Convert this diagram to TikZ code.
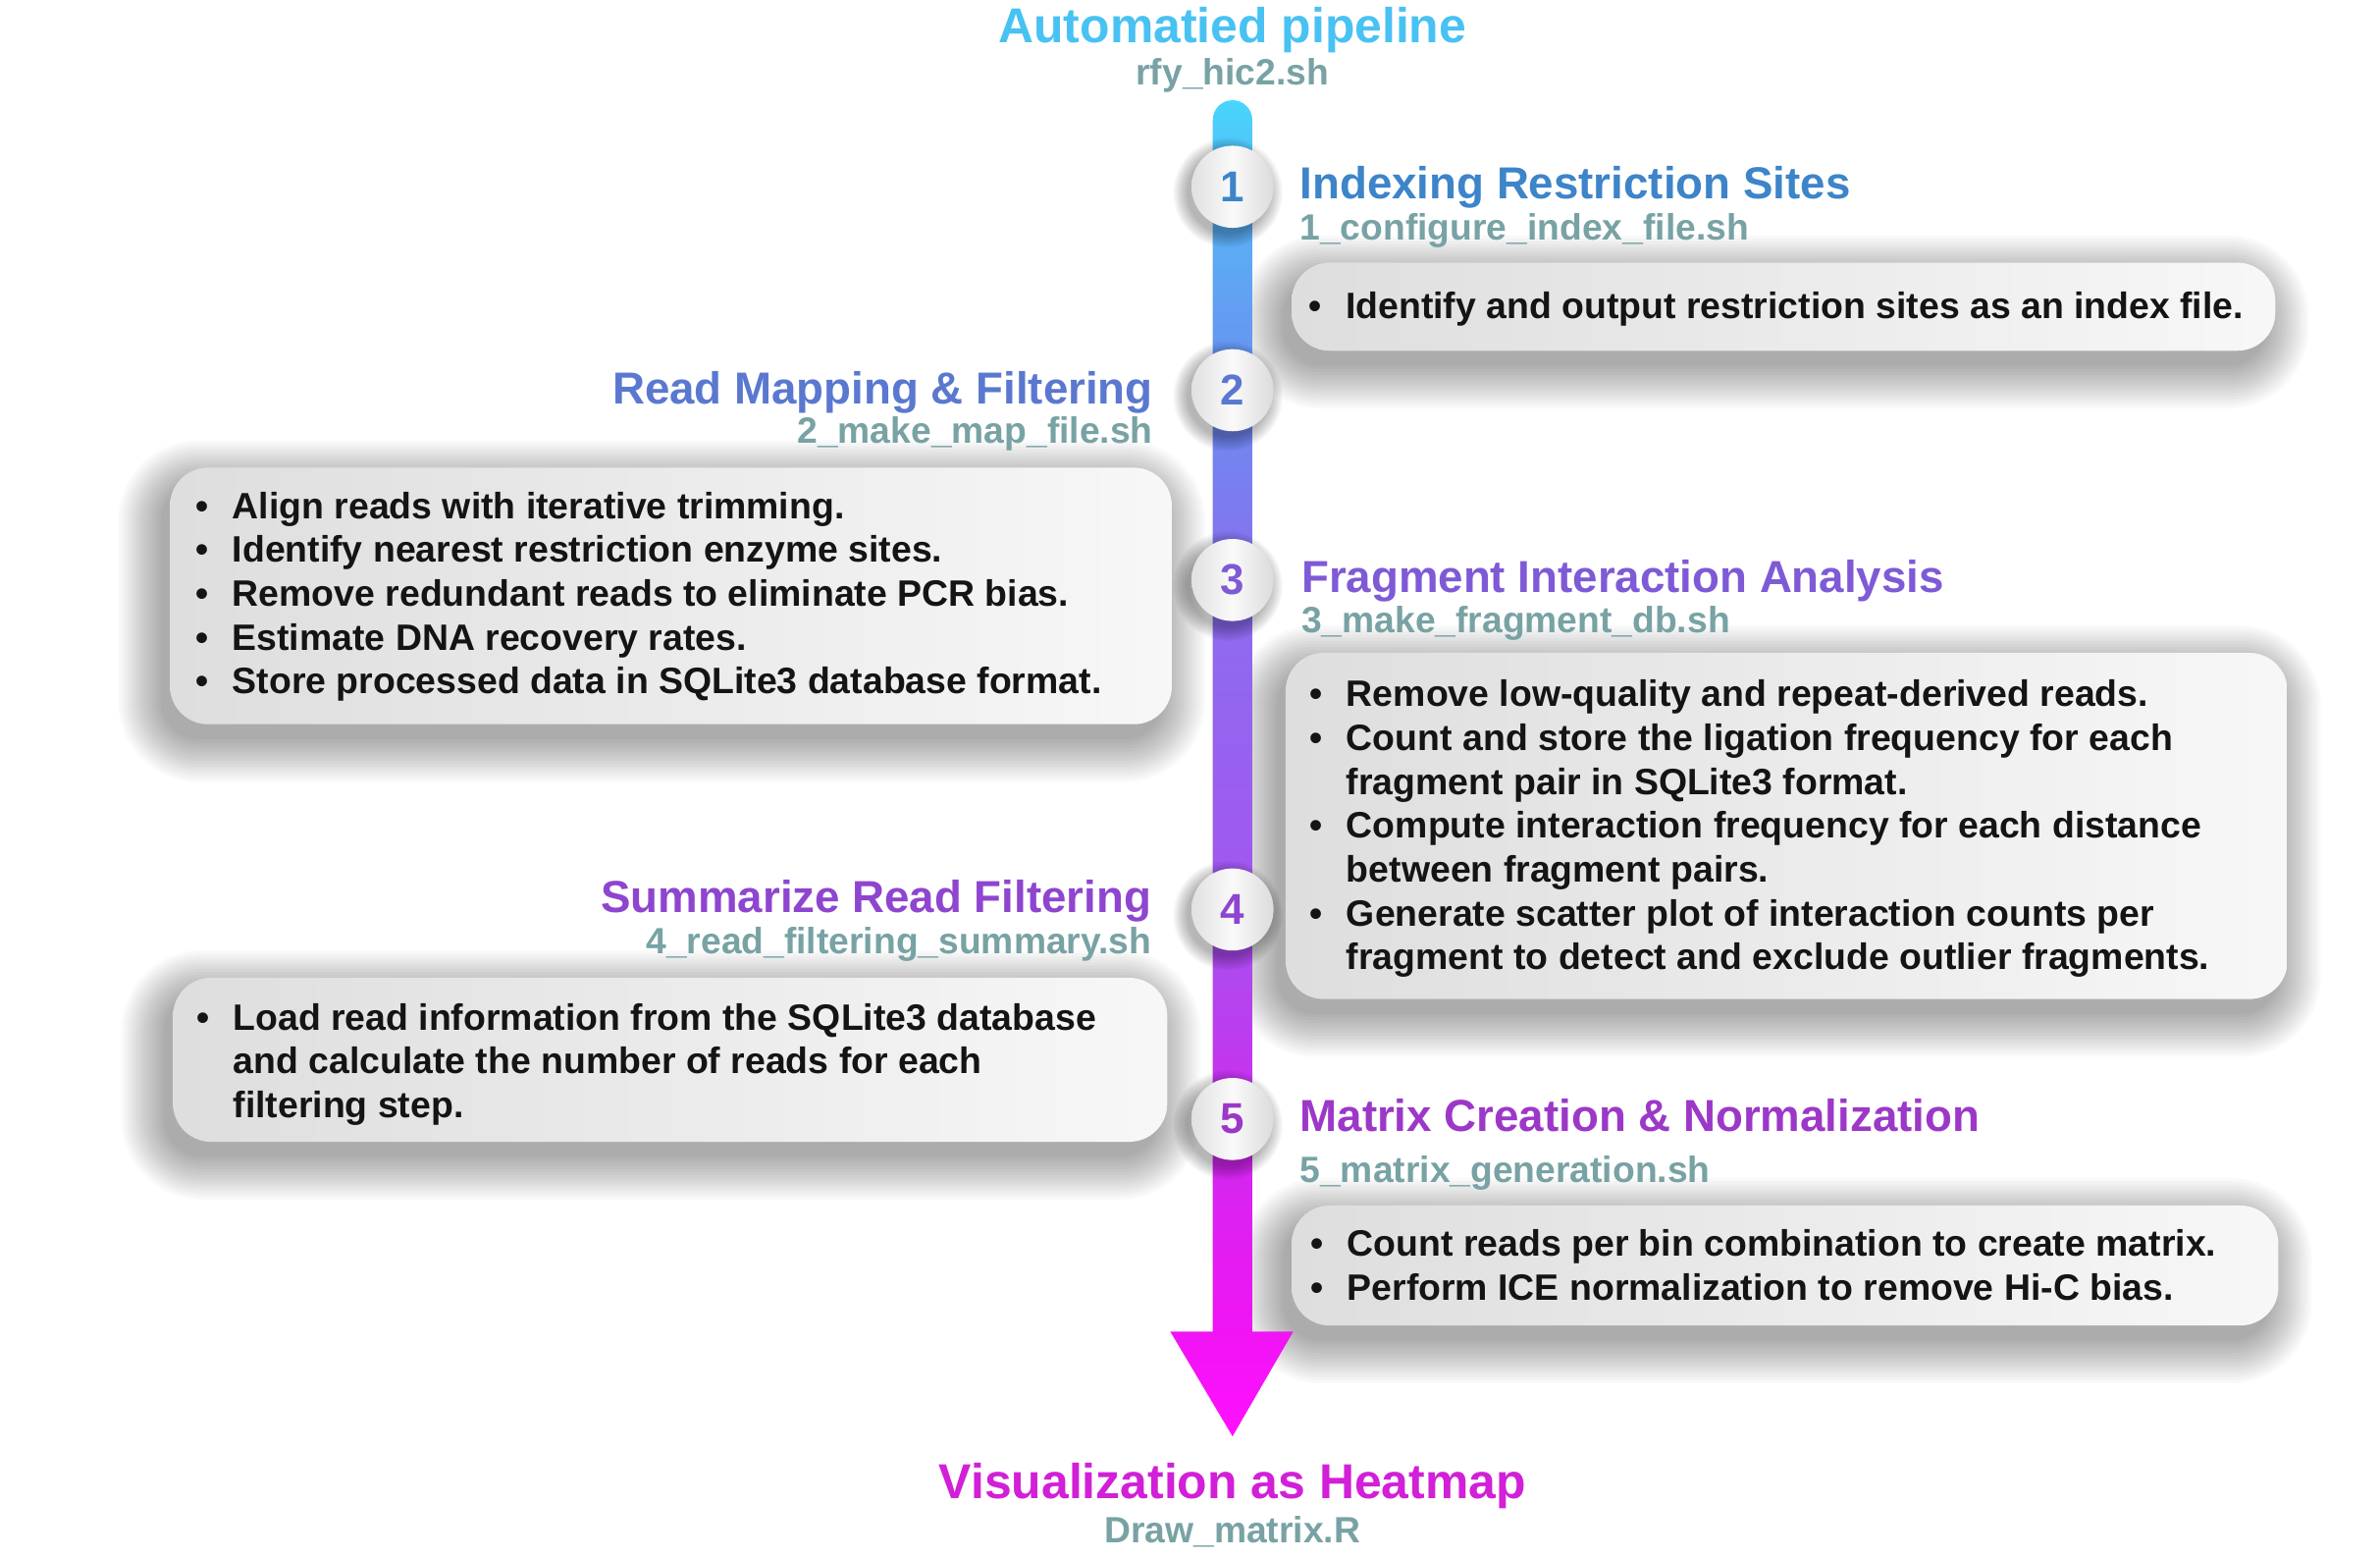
\documentclass[tikz,border=0pt]{standalone}
\usepackage{fontspec}
\setmainfont{Liberation Sans}
\usetikzlibrary{fit}

% text colours
\definecolor{cTitle}{HTML}{48C2F2}
\definecolor{cSub}{HTML}{78A2A4}
\definecolor{cOne}{HTML}{3D84C9}
\definecolor{cTwo}{HTML}{5A78CF}
\definecolor{cThree}{HTML}{7E5AD6}
\definecolor{cFour}{HTML}{8E45CF}
\definecolor{cFive}{HTML}{9C38C8}
\definecolor{cEnd}{HTML}{D21FD8}
\definecolor{cBody}{HTML}{141414}
% colours along the timeline bar (top to bottom)
\definecolor{sA}{HTML}{48D6FC}
\definecolor{sB}{HTML}{56B8F6}
\definecolor{sC}{HTML}{6A8EF0}
\definecolor{sD}{HTML}{8A6EEF}
\definecolor{sE}{HTML}{A455EF}
\definecolor{sF}{HTML}{CC2CEE}
\definecolor{sG}{HTML}{F014F4}
\definecolor{sH}{HTML}{FF10FF}

\pgfdeclareverticalshading{barshade}{100bp}{%
  color(0bp)=(sH); color(25bp)=(sH); color(28.9bp)=(sG); color(36.9bp)=(sF);
  color(44.8bp)=(sE); color(57bp)=(sD); color(64.2bp)=(sC); color(71.8bp)=(sB);
  color(75bp)=(sA); color(100bp)=(sA)}

\tikzset{
  panel/.style={rounded corners=11pt, left color=black!13, right color=black!3,
    inner sep=0pt, draw=none},
  disc/.style={circle, minimum size=23.8pt, inner sep=0pt,
    left color=black!12, right color=black!14, middle color=black!2,
    font=\fontsize{12.5}{12.5}\selectfont\bfseries},
  bigtitle/.style={font=\fontsize{14.2}{16}\selectfont\bfseries, inner sep=0pt, anchor=base},
  heading/.style={font=\fontsize{13}{15}\selectfont\bfseries, inner sep=0pt},
  script/.style={font=\fontsize{10.6}{12}\selectfont\bfseries, text=cSub, inner sep=0pt},
  bullets/.style={font=\fontsize{10.65}{12.7}\selectfont\bfseries, text=cBody,
    inner sep=0pt, anchor=base west, align=left},
  haze/.style={fill=black, opacity=#1, draw=none},
  haze/.default=0.022,
}

% soft drop shadow under a rounded panel: nested fills, growing outward
\newcommand\panelshadow[4]{%
  \foreach \d [evaluate=\d as \r using 11+0.44*\d] in {28,26,...,0}
    \fill[haze, rounded corners=\r pt]
      ({#1-6-\d},{#2+10-\d}) rectangle ({#3-6+\d},{#4+10+\d});}
% soft drop shadow under a disc
\newcommand\discshadow[2]{%
  \foreach \d in {9,8,...,0}
    \fill[haze=0.03] ({#1-3},{#2+4}) circle ({27+\d});}

\newcommand\blist[1]{\begin{tabular}[t]{@{}l@{\hspace{6.9pt}}l@{}}#1\end{tabular}}

\begin{document}
\begin{tikzpicture}[x=0.015466cm, y=-0.015466cm]
  \useasboundingbox (0,0) rectangle (1568,1026);
  \fill[white] (0,0) rectangle (1568,1026);

  % shadows
  \panelshadow{851}{173}{1499}{231}
  \panelshadow{112}{308}{772}{477}
  \panelshadow{847}{430}{1507}{658}
  \panelshadow{114}{644}{769}{752}
  \panelshadow{851}{794}{1501}{873}

  % description panels
  \node[panel, fit={(851,173) (1499,231)}] (p1) {};
  \node[panel, fit={(112,308) (772,477)}] (p2) {};
  \node[panel, fit={(847,430) (1507,658)}] (p3) {};
  \node[panel, fit={(114,644) (769,752)}] (p4) {};
  \node[panel, fit={(851,794) (1501,873)}] (p5) {};

  % timeline bar with arrow head
  \path[shading=barshade] (799,79) arc(180:360:13) -- (825,877) -- (852,877)
    -- (812,946) -- (771,877) -- (799,877) -- cycle;

  % step discs
  \discshadow{812}{123}
  \discshadow{812}{257}
  \discshadow{812}{382}
  \discshadow{812}{599}
  \discshadow{812}{737}
  \node[disc, text=cOne]   (n1) at (812,123) {1};
  \node[disc, text=cTwo]   (n2) at (812,257) {2};
  \node[disc, text=cThree] (n3) at (812,382) {3};
  \node[disc, text=cFour]  (n4) at (812,599) {4};
  \node[disc, text=cFive]  (n5) at (812,737) {5};

  % top and bottom titles
  \node[bigtitle, text=cTitle] (top) at (812,28) {Automatied pipeline};
  \node[script, anchor=base] (topscript) at (812,56) {rfy\_hic2.sh};
  \node[bigtitle, text=cEnd] (bottom) at (812,987) {Visualization as Heatmap};
  \node[script, anchor=base] (bottomscript) at (812,1016) {Draw\_matrix.R};

  % step headings
  \node[heading, text=cOne, anchor=base west] (h1) at (856,131) {Indexing Restriction Sites};
  \node[script, anchor=base west] (s1) at (856,158) {1\_configure\_index\_file.sh};
  \node[heading, text=cTwo, anchor=base east] (h2) at (760,266) {Read Mapping \& Filtering};
  \node[script, anchor=base east] (s2) at (760,292) {2\_make\_map\_file.sh};
  \node[heading, text=cThree, anchor=base west] (h3) at (857,390) {Fragment Interaction Analysis};
  \node[script, anchor=base west] (s3) at (857,417) {3\_make\_fragment\_db.sh};
  \node[heading, text=cFour, anchor=base east] (h4) at (759,601) {Summarize Read Filtering};
  \node[script, anchor=base east] (s4) at (759,628) {4\_read\_filtering\_summary.sh};
  \node[heading, text=cFive, anchor=base west] (h5) at (856,745.5) {Matrix Creation \& Normalization};
  \node[script, anchor=base west] (s5) at (856,779) {5\_matrix\_generation.sh};

  % panel texts
  \node[bullets] (t1) at (862,209.5) {\blist{%
    \textbullet & Identify and output restriction sites as an index file.}};
  \node[bullets] (t2) at (128.5,341.5) {\blist{%
    \textbullet & Align reads with iterative trimming.\\
    \textbullet & Identify nearest restriction enzyme sites.\\
    \textbullet & Remove redundant reads to eliminate PCR bias.\\
    \textbullet & Estimate DNA recovery rates.\\
    \textbullet & Store processed data in SQLite3 database format.}};
  \node[bullets] (t3) at (862.5,465.5) {\blist{%
    \textbullet & Remove low-quality and repeat-derived reads.\\
    \textbullet & Count and store the ligation frequency for each\\
                & fragment pair in SQLite3 format.\\
    \textbullet & Compute interaction frequency for each distance\\
                & between fragment pairs.\\
    \textbullet & Generate scatter plot of interaction counts per\\
                & fragment to detect and exclude outlier fragments.}};
  \node[bullets] (t4) at (129,678.5) {\blist{%
    \textbullet & Load read information from the SQLite3 database\\
                & and calculate the number of reads for each\\
                & filtering step.}};
  \node[bullets] (t5) at (863,827.6) {\blist{%
    \textbullet & Count reads per bin combination to create matrix.\\
    \textbullet & Perform ICE normalization to remove Hi-C bias.}};
\end{tikzpicture}
\end{document}
